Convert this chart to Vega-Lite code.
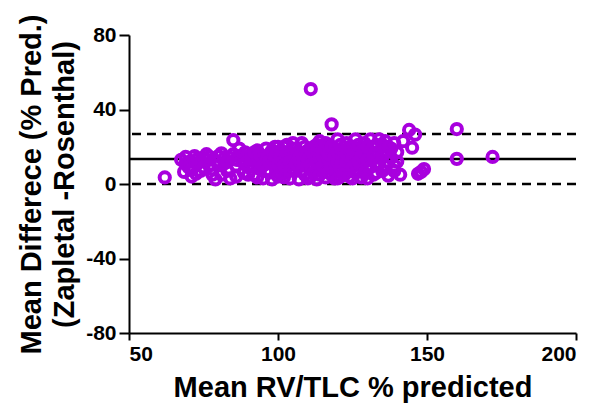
{
  "$schema": "https://vega.github.io/schema/vega-lite/v6.json",
  "autosize": "none",
  "width": 447,
  "height": 298,
  "padding": {"left": 129, "top": 35, "right": 19, "bottom": 75},
  "background": "white",
  "config": {
    "view": {"stroke": null},
    "font": "Liberation Sans",
    "axis": {
      "grid": false,
      "domainColor": "black",
      "domainWidth": 2,
      "tickColor": "black",
      "tickWidth": 2,
      "labelFont": "Liberation Sans",
      "labelFontWeight": "bold",
      "labelFontSize": 21,
      "labelColor": "black",
      "titleFont": "Liberation Sans",
      "titleFontWeight": "bold",
      "titleFontSize": 29,
      "titleColor": "black"
    }
  },
  "datasets": {
    "points": [
      {"x": 62, "y": 3.5},
      {"x": 67.5, "y": 13}, {"x": 69, "y": 14.5}, {"x": 70.5, "y": 12}, {"x": 68.5, "y": 6.5}, {"x": 71, "y": 4}, {"x": 70, "y": 9}, {"x": 72, "y": 15}, {"x": 73, "y": 11}, {"x": 74, "y": 7}, {"x": 75, "y": 14}, {"x": 76, "y": 16}, {"x": 77, "y": 10}, {"x": 78, "y": 5}, {"x": 79, "y": 2.5}, {"x": 79.5, "y": 12}, {"x": 80, "y": 15}, {"x": 72.5, "y": 5.5}, {"x": 76, "y": 13}, {"x": 74, "y": 12.5}, {"x": 78, "y": 8},
      {"x": 81, "y": 16.5}, {"x": 82, "y": 11}, {"x": 83, "y": 7}, {"x": 84, "y": 14}, {"x": 85, "y": 23.5}, {"x": 86, "y": 10}, {"x": 86, "y": 4}, {"x": 87, "y": 15}, {"x": 88, "y": 12}, {"x": 88.5, "y": 6}, {"x": 89, "y": 17}, {"x": 90, "y": 9}, {"x": 90, "y": 14}, {"x": 84, "y": 3}, {"x": 87, "y": 19}, {"x": 82, "y": 14},
      {"x": 91, "y": 16}, {"x": 92, "y": 5}, {"x": 92, "y": 12}, {"x": 93, "y": 18}, {"x": 94, "y": 8}, {"x": 95, "y": 14}, {"x": 95, "y": 3}, {"x": 96, "y": 11}, {"x": 96, "y": 19}, {"x": 97, "y": 16}, {"x": 97, "y": 6}, {"x": 98, "y": 13}, {"x": 98, "y": 2.5}, {"x": 99, "y": 9}, {"x": 99, "y": 20}, {"x": 100, "y": 15}, {"x": 100, "y": 4}, {"x": 94, "y": 12}, {"x": 93, "y": 15}, {"x": 91, "y": 10},
      {"x": 101, "y": 12}, {"x": 101, "y": 18}, {"x": 102, "y": 6}, {"x": 102, "y": 14}, {"x": 103, "y": 9}, {"x": 103, "y": 21}, {"x": 104, "y": 16}, {"x": 104, "y": 3}, {"x": 105, "y": 11}, {"x": 105, "y": 19}, {"x": 106, "y": 7}, {"x": 106, "y": 14}, {"x": 107, "y": 17}, {"x": 107, "y": 2.5}, {"x": 108, "y": 12}, {"x": 108, "y": 22}, {"x": 109, "y": 5}, {"x": 109, "y": 15}, {"x": 110, "y": 9}, {"x": 110, "y": 18}, {"x": 103, "y": 13}, {"x": 105, "y": 15}, {"x": 107, "y": 10}, {"x": 109, "y": 13}, {"x": 102, "y": 20}, {"x": 101, "y": 8},
      {"x": 111, "y": 51}, {"x": 111, "y": 14}, {"x": 111, "y": 4}, {"x": 112, "y": 20}, {"x": 112, "y": 10}, {"x": 113, "y": 16}, {"x": 113, "y": 2.5}, {"x": 114, "y": 12}, {"x": 114, "y": 23}, {"x": 115, "y": 7}, {"x": 115, "y": 18}, {"x": 116, "y": 14}, {"x": 116, "y": 3.5}, {"x": 117, "y": 10}, {"x": 117, "y": 21}, {"x": 118, "y": 32}, {"x": 118, "y": 15}, {"x": 118, "y": 5}, {"x": 119, "y": 12}, {"x": 119, "y": 19}, {"x": 120, "y": 8}, {"x": 120, "y": 24}, {"x": 112, "y": 13}, {"x": 114, "y": 17}, {"x": 116, "y": 9}, {"x": 119, "y": 3}, {"x": 113, "y": 8},
      {"x": 121, "y": 14}, {"x": 121, "y": 4}, {"x": 122, "y": 18}, {"x": 122, "y": 10}, {"x": 123, "y": 22}, {"x": 123, "y": 6}, {"x": 124, "y": 13}, {"x": 124, "y": 16}, {"x": 125, "y": 3}, {"x": 125, "y": 20}, {"x": 126, "y": 11}, {"x": 126, "y": 24}, {"x": 127, "y": 7}, {"x": 127, "y": 15}, {"x": 128, "y": 19}, {"x": 128, "y": 3.5}, {"x": 129, "y": 12}, {"x": 129, "y": 22}, {"x": 130, "y": 9}, {"x": 130, "y": 16}, {"x": 122, "y": 14}, {"x": 124, "y": 8}, {"x": 126, "y": 17}, {"x": 128, "y": 11},
      {"x": 131, "y": 24}, {"x": 131, "y": 13}, {"x": 132, "y": 5}, {"x": 132, "y": 20}, {"x": 133, "y": 17}, {"x": 133, "y": 10}, {"x": 134, "y": 24}, {"x": 134, "y": 14}, {"x": 135, "y": 21}, {"x": 135, "y": 7}, {"x": 136, "y": 17}, {"x": 136, "y": 23}, {"x": 137, "y": 4.5}, {"x": 137, "y": 12}, {"x": 138, "y": 19}, {"x": 139, "y": 22}, {"x": 140, "y": 17}, {"x": 141, "y": 5}, {"x": 139, "y": 10},
      {"x": 142, "y": 23}, {"x": 144, "y": 29}, {"x": 145, "y": 19.5}, {"x": 146, "y": 26.5}, {"x": 147, "y": 5.5}, {"x": 148, "y": 6.5}, {"x": 149, "y": 8}, {"x": 160, "y": 29.5}, {"x": 160, "y": 13.5}, {"x": 172, "y": 14.5},
      {"x": 69, "y": 11}, {"x": 71, "y": 7.5}, {"x": 73, "y": 13.5}, {"x": 75, "y": 9}, {"x": 77, "y": 14.5}, {"x": 80, "y": 10}, {"x": 81, "y": 5}, {"x": 83, "y": 12}, {"x": 85, "y": 16}, {"x": 86, "y": 13}, {"x": 89, "y": 11}, {"x": 90, "y": 5}, {"x": 91, "y": 13.5}, {"x": 92, "y": 17}, {"x": 93, "y": 3.5}, {"x": 94, "y": 15.5}, {"x": 95, "y": 10}, {"x": 96, "y": 7}, {"x": 97, "y": 12}, {"x": 98, "y": 18}, {"x": 99, "y": 15}, {"x": 100, "y": 11}, {"x": 100, "y": 20},
      {"x": 101, "y": 15}, {"x": 102, "y": 3.5}, {"x": 102, "y": 10}, {"x": 103, "y": 17}, {"x": 104, "y": 12}, {"x": 104, "y": 7}, {"x": 105, "y": 22}, {"x": 106, "y": 11}, {"x": 106, "y": 19}, {"x": 107, "y": 14}, {"x": 108, "y": 7}, {"x": 108, "y": 16}, {"x": 109, "y": 20}, {"x": 110, "y": 13}, {"x": 110, "y": 3},
      {"x": 111, "y": 10}, {"x": 111, "y": 18}, {"x": 112, "y": 6}, {"x": 112, "y": 16}, {"x": 113, "y": 12}, {"x": 113, "y": 21}, {"x": 114, "y": 5}, {"x": 114, "y": 14}, {"x": 115, "y": 10}, {"x": 115, "y": 15}, {"x": 116, "y": 19}, {"x": 116, "y": 22}, {"x": 117, "y": 6}, {"x": 117, "y": 13}, {"x": 117, "y": 16}, {"x": 118, "y": 9}, {"x": 118, "y": 20}, {"x": 119, "y": 15}, {"x": 120, "y": 12}, {"x": 120, "y": 17}, {"x": 120, "y": 3},
      {"x": 121, "y": 9}, {"x": 121, "y": 21}, {"x": 122, "y": 5}, {"x": 123, "y": 12}, {"x": 123, "y": 16}, {"x": 124, "y": 20}, {"x": 124, "y": 4}, {"x": 125, "y": 14}, {"x": 125, "y": 9}, {"x": 126, "y": 6}, {"x": 127, "y": 12}, {"x": 127, "y": 21}, {"x": 128, "y": 15}, {"x": 129, "y": 6}, {"x": 129, "y": 17}, {"x": 130, "y": 13}, {"x": 130, "y": 20}, {"x": 130, "y": 3},
      {"x": 131, "y": 9}, {"x": 132, "y": 15}, {"x": 133, "y": 6}, {"x": 133, "y": 21}, {"x": 134, "y": 11}, {"x": 135, "y": 15}, {"x": 136, "y": 10}, {"x": 137, "y": 20}, {"x": 138, "y": 14}, {"x": 139, "y": 7}, {"x": 140, "y": 12}
    ],
    "lines": [
      {"y": 13.4, "kind": "mean"},
      {"y": 26.8, "kind": "limit"},
      {"y": 0, "kind": "limit"}
    ]
  },
  "layer": [
    {
      "data": {"name": "lines"},
      "transform": [{"filter": "datum.kind == 'limit'"}],
      "mark": {"type": "rule", "color": "black", "strokeWidth": 2.5, "strokeDash": [9, 6]},
      "encoding": {
        "y": {"field": "y", "type": "quantitative", "scale": {"domain": [-80, 80]}}
      }
    },
    {
      "data": {"name": "lines"},
      "transform": [{"filter": "datum.kind == 'mean'"}],
      "mark": {"type": "rule", "color": "black", "strokeWidth": 2.5},
      "encoding": {
        "y": {"field": "y", "type": "quantitative"}
      }
    },
    {
      "data": {"name": "points"},
      "mark": {"type": "point", "shape": "circle", "filled": false, "color": "#A800DE", "strokeWidth": 4, "size": 105, "opacity": 1},
      "encoding": {
        "x": {
          "field": "x", "type": "quantitative",
          "scale": {"domain": [50, 200], "nice": false, "zero": false},
          "axis": {"values": [50, 100, 150, 200], "tickSize": 7, "labelPadding": 3, "title": "Mean RV/TLC % predicted", "titlePadding": 9}
        },
        "y": {
          "field": "y", "type": "quantitative",
          "scale": {"domain": [-80, 80], "nice": false},
          "axis": {"values": [-80, -40, 0, 40, 80], "labelExpr": "'' + datum.value", "tickSize": 10, "labelPadding": 3, "title": ["Mean Differece (% Pred.)", "(Zapletal -Rosenthal)"], "titlePadding": 6, "titleLineHeight": 33}
        }
      }
    }
  ]
}
